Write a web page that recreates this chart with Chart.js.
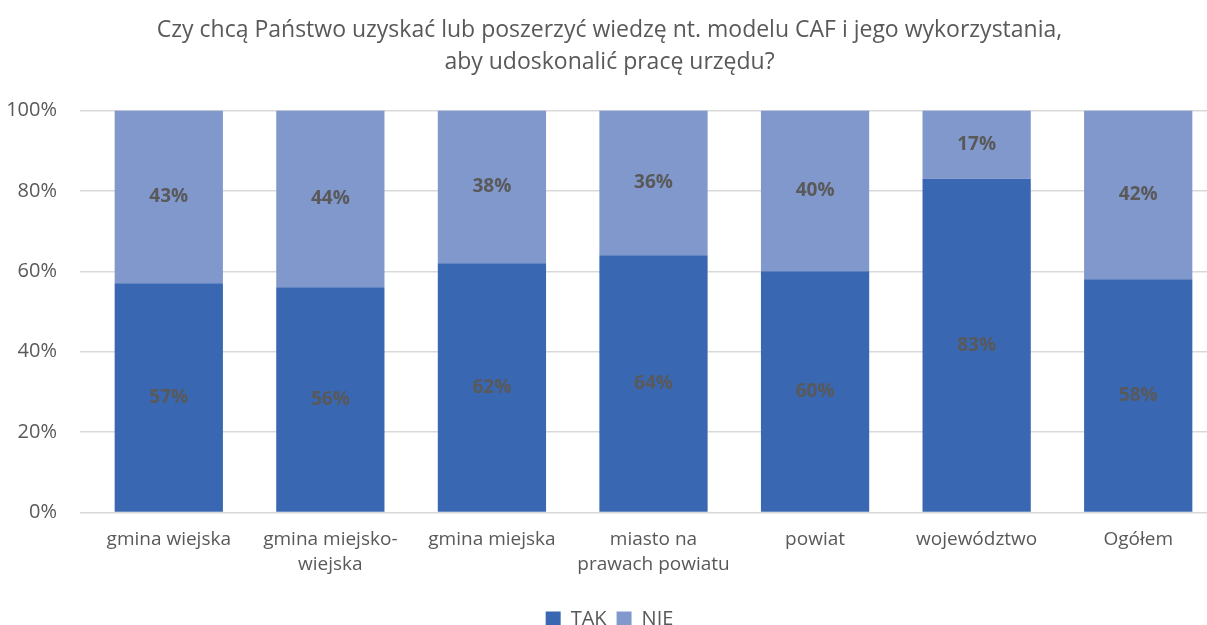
<!DOCTYPE html>
<html lang="pl">
<head>
    <meta charset="UTF-8">
    <title>Wiedza nt. modelu CAF</title>
    <script src="https://cdn.jsdelivr.net/npm/chart.js@4"></script>
    <style>
        body {
            margin: 0;
            background: #ffffff;
            overflow: hidden;
        }
        /* the source picture is cut off a little on the right, so the chart is a bit wider than the window */
        .chart-container {
            width: 1219px;
            height: 625px;
        }
    </style>
</head>
<body>
    <div class="chart-container">
        <canvas id="cafChart"></canvas>
    </div>

    <script>
        const categories = [
            'gmina wiejska',
            ['gmina miejsko-', 'wiejska'],
            'gmina miejska',
            ['miasto na', 'prawach powiatu'],
            'powiat',
            'województwo',
            'Ogółem'
        ];
        const takValues = [57, 56, 62, 64, 60, 83, 58];
        const nieValues = [43, 44, 38, 36, 40, 17, 42];
        const yTicks = [0, 20, 40, 60, 80, 100];

        const textColor = '#595959';
        const fontFamily = '"Open Sans", sans-serif';

        // writes the percentage in the middle of each bar segment
        const segmentLabels = {
            id: 'segmentLabels',
            afterDatasetsDraw(chart) {
                const ctx = chart.ctx;
                ctx.save();
                ctx.font = 'bold 19px ' + fontFamily;
                ctx.fillStyle = textColor;
                ctx.textAlign = 'center';
                ctx.textBaseline = 'middle';
                chart.data.datasets.forEach((ds, i) => {
                    chart.getDatasetMeta(i).data.forEach((bar, j) => {
                        const mid = (bar.y + bar.base) / 2;
                        ctx.fillText(ds.data[j] + '%', bar.x, mid);
                    });
                });
                ctx.restore();
            }
        };

        new Chart(document.getElementById('cafChart'), {
            type: 'bar',
            data: {
                labels: categories,
                datasets: [
                    {
                        label: 'TAK',
                        data: takValues,
                        backgroundColor: '#3A67B1'
                    },
                    {
                        label: 'NIE',
                        data: nieValues,
                        backgroundColor: '#8198CD'
                    }
                ]
            },
            options: {
                responsive: true,
                maintainAspectRatio: false,
                animation: false,
                layout: {
                    padding: { left: 0, right: 0, top: 2, bottom: -14 }
                },
                datasets: {
                    bar: {
                        categoryPercentage: 0.67,
                        barPercentage: 1
                    }
                },
                plugins: {
                    title: {
                        display: true,
                        text: [
                            'Czy chcą Państwo uzyskać lub poszerzyć wiedzę nt. modelu CAF i jego wykorzystania,',
                            'aby udoskonalić pracę urzędu?'
                        ],
                        color: textColor,
                        font: { family: fontFamily, size: 23, weight: 'normal', lineHeight: 1.4 },
                        padding: { top: 12, bottom: 32 }
                    },
                    legend: {
                        position: 'bottom',
                        labels: {
                            color: textColor,
                            font: { family: fontFamily, size: 20 },
                            boxWidth: 15,
                            boxHeight: 15,
                            padding: 10
                        }
                    },
                    tooltip: { enabled: false }
                },
                scales: {
                    x: {
                        stacked: true,
                        grid: { display: false },
                        border: { color: '#d9d9d9' },
                        afterFit(axis) {
                            axis.height += 15;
                        },
                        ticks: {
                            color: textColor,
                            font: { family: fontFamily, size: 19, lineHeight: 1.3 },
                            maxRotation: 0,
                            padding: 7
                        }
                    },
                    y: {
                        stacked: true,
                        min: 0,
                        max: 100,
                        afterBuildTicks(axis) {
                            axis.ticks = yTicks.map(v => ({ value: v }));
                        },
                        afterFit(axis) {
                            axis.width = 88;
                        },
                        grid: { color: '#d9d9d9', lineWidth: 1.5 },
                        border: { display: false },
                        ticks: {
                            color: textColor,
                            font: { family: fontFamily, size: 20 },
                            padding: 23,
                            callback: v => v + '%'
                        }
                    }
                }
            },
            plugins: [segmentLabels]
        });
    </script>
</body>
</html>
